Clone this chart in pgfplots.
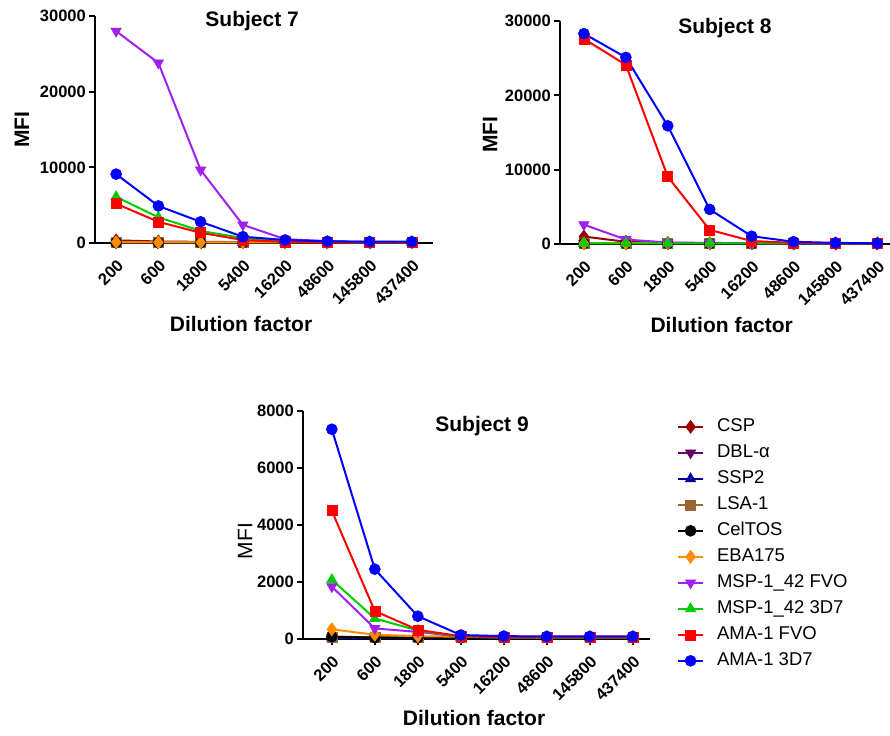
\documentclass[border=0pt]{standalone}
\usepackage{fontspec}
\setmainfont{Liberation Sans}
\usepackage{pgfplots}
\usepackage{pgfplotstable}
\pgfplotsset{compat=1.18}

\definecolor{cspc}{RGB}{153,0,0}
\definecolor{dblc}{RGB}{102,0,102}
\definecolor{sspc}{RGB}{0,0,153}
\definecolor{lsac}{RGB}{153,102,51}
\definecolor{celc}{RGB}{0,0,0}
\definecolor{ebac}{RGB}{255,140,0}
\definecolor{mfvoc}{RGB}{160,32,240}
\definecolor{mtdc}{RGB}{0,204,0}
\definecolor{afvoc}{RGB}{255,0,0}
\definecolor{atdc}{RGB}{0,0,255}

\pgfplotstableread{
x csp dbl ssp lsa cel eba mfvo mtd afvo atd
0 350 100 50 150 50 100 28000 6100 5200 9100
1 200 80 50 100 50 80 23800 3400 2800 4900
2 150 80 50 100 50 80 9650 1600 1350 2800
3 120 80 50 80 50 80 2400 650 400 830
4 100 80 50 80 50 80 500 250 150 400
5 100 80 50 80 50 80 250 150 100 220
6 100 80 50 80 50 80 150 100 100 170
7 100 80 50 80 50 80 120 100 100 170
}\subjseven

\pgfplotstableread{
x csp dbl ssp lsa cel eba mfvo mtd afvo atd
0 1000 100 50 100 50 80 2600 100 27600 28300
1 300 100 50 100 50 80 600 80 24100 25100
2 150 100 50 100 50 80 200 80 9050 15900
3 100 100 50 100 50 80 150 80 1900 4650
4 100 100 50 100 50 80 100 80 400 1050
5 80 100 50 100 50 80 100 80 150 300
6 80 100 50 100 50 80 80 80 100 150
7 80 100 50 100 50 80 80 80 100 100
}\subjeight

\pgfplotstableread{
x csp dbl ssp lsa cel eba mfvo mtd afvo atd
0 80 40 30 60 80 340 1840 2080 4500 7360
1 60 40 30 60 50 150 370 720 980 2450
2 50 40 30 60 50 100 250 300 320 800
3 50 40 30 60 50 80 80 80 100 140
4 60 40 30 60 50 80 60 50 60 100
5 60 40 30 60 50 80 60 50 60 90
6 60 40 30 60 50 80 60 50 60 90
7 60 40 30 60 50 80 60 50 60 90
}\subjnine

\pgfplotsset{
  sub/.style={
    scale only axis,
    axis lines=left,
    axis line style={-, line width=2pt},
    tick align=outside,
    major tick length=6pt,
    tick style={line width=2pt, black},
    xtick={0,...,7},
    xticklabels={200,600,1800,5400,16200,48600,145800,437400},
    ymin=0,
    clip=false,
    scaled y ticks=false,
    /pgf/number format/assume math mode=true,
    /pgf/number format/1000 sep={},
    tick label style={font=\bfseries\fontsize{16.5}{18}\selectfont},
    xticklabel style={xshift=0pt, yshift=-8pt, rotate=45, anchor=north east, inner sep=1pt},
    yticklabel style={inner sep=3pt},
    title style={font=\bfseries\fontsize{21}{24}\selectfont, anchor=center, yshift=-7pt},
    xlabel style={font=\bfseries\fontsize{21}{24}\selectfont, anchor=center},
    ylabel style={font=\bfseries\fontsize{21}{24}\selectfont, anchor=center},
    xlabel={Dilution factor},
    ylabel={MFI},
    every axis plot/.append style={line width=2pt, mark size=5pt},
  },
  scsp/.style={color=cspc, mark=diamond*, mark size=6.5pt, mark options={solid, line width=0.6pt, fill=cspc}},
  sdbl/.style={color=dblc, mark=triangle*, mark size=6pt, mark options={solid, rotate=180, line width=0.6pt, fill=dblc}},
  sssp/.style={color=sspc, mark=triangle*, mark size=6pt, mark options={solid, line width=0.6pt, fill=sspc}},
  slsa/.style={color=lsac, mark=square*, mark size=5pt, mark options={solid, line width=0.6pt, fill=lsac}},
  scel/.style={color=celc, mark=*, mark size=5.5pt, mark options={solid, line width=0.6pt, fill=celc}},
  seba/.style={color=ebac, mark=diamond*, mark size=6.5pt, mark options={solid, line width=0.6pt, fill=ebac}},
  smfvo/.style={color=mfvoc, mark=triangle*, mark size=6pt, mark options={solid, rotate=180, line width=0.6pt, fill=mfvoc}},
  smtd/.style={color=mtdc, mark=triangle*, mark size=6pt, mark options={solid, line width=0.6pt, fill=mtdc}},
  safvo/.style={color=afvoc, mark=square*, mark size=5pt, mark options={solid, line width=0.6pt, fill=afvoc}},
  satd/.style={color=atdc, mark=*, mark size=5.5pt, mark options={solid, line width=0.6pt, fill=atdc}},
}

\newcommand{\plotall}[1]{%
  \addplot[scsp] table[x=x,y=csp] {#1};
  \addplot[sdbl] table[x=x,y=dbl] {#1};
  \addplot[sssp] table[x=x,y=ssp] {#1};
  \addplot[slsa] table[x=x,y=lsa] {#1};
  \addplot[scel] table[x=x,y=cel] {#1};
  \addplot[seba] table[x=x,y=eba] {#1};
  \addplot[smfvo] table[x=x,y=mfvo] {#1};
  \addplot[smtd] table[x=x,y=mtd] {#1};
  \addplot[safvo] table[x=x,y=afvo] {#1};
  \addplot[satd] table[x=x,y=atd] {#1};
}

\begin{document}
\begin{tikzpicture}
\path[use as bounding box] (0pt,0pt) rectangle (890pt,-735pt);

% Subject 7
\begin{axis}[sub,
  at={(95pt,-243pt)}, anchor=south west,
  width=338pt, height=227pt,
  xmin=-0.5, xmax=7.5, ymax=30000,
  ytick={0,10000,20000,30000},
  title={Subject 7},
  title style={at={(axis description cs:0.465,0.982)}},
  xlabel style={at={(axis description cs:0.432,-0.357)}},
  ylabel style={at={(axis description cs:-0.216,0.50)}},
]
\plotall{\subjseven}
\end{axis}

% Subject 8
\begin{axis}[sub,
  at={(560pt,-244pt)}, anchor=south west,
  width=330pt, height=223pt,
  xmin=-0.57, xmax=7.3, ymax=30000,
  ytick={0,10000,20000,30000},
  title={Subject 8},
  title style={at={(axis description cs:0.5,0.973)}},
  xlabel style={at={(axis description cs:0.49,-0.363)}},
  ylabel style={at={(axis description cs:-0.212,0.49)}},
]
\plotall{\subjeight}
\end{axis}

% Subject 9
\begin{axis}[sub,
  at={(303pt,-639pt)}, anchor=south west,
  width=347pt, height=228pt,
  xmin=-0.67, xmax=7.4, ymax=8000,
  ytick={0,2000,4000,6000,8000},
  title={Subject 9},
  title style={at={(axis description cs:0.516,0.94)}},
  xlabel style={at={(axis description cs:0.493,-0.346)}},
  ylabel style={at={(axis description cs:-0.167,0.43)}, font=\fontsize{21}{24}\selectfont},
  legend cell align=left,
  legend style={draw=none, fill=none,
    at={(axis description cs:1.078,0.969)}, anchor=north west,
    font=\fontsize{18.5}{20}\selectfont,
    inner sep=0pt, outer sep=0pt,
    row sep=8.5pt, column sep=13pt,
    nodes={inner sep=0pt, text height=13.5pt, text depth=4pt}},
  legend image code/.code={\draw[mark repeat=2, mark phase=2, line width=2pt] plot coordinates {(0pt,0pt) (12.5pt,0pt) (25pt,0pt)};},
]
\plotall{\subjnine}
\legend{CSP, DBL-α, SSP2, LSA-1, CelTOS, EBA175, MSP-1\_42 FVO, MSP-1\_42 3D7, AMA-1 FVO, AMA-1 3D7}
\end{axis}
\end{tikzpicture}
\end{document}
